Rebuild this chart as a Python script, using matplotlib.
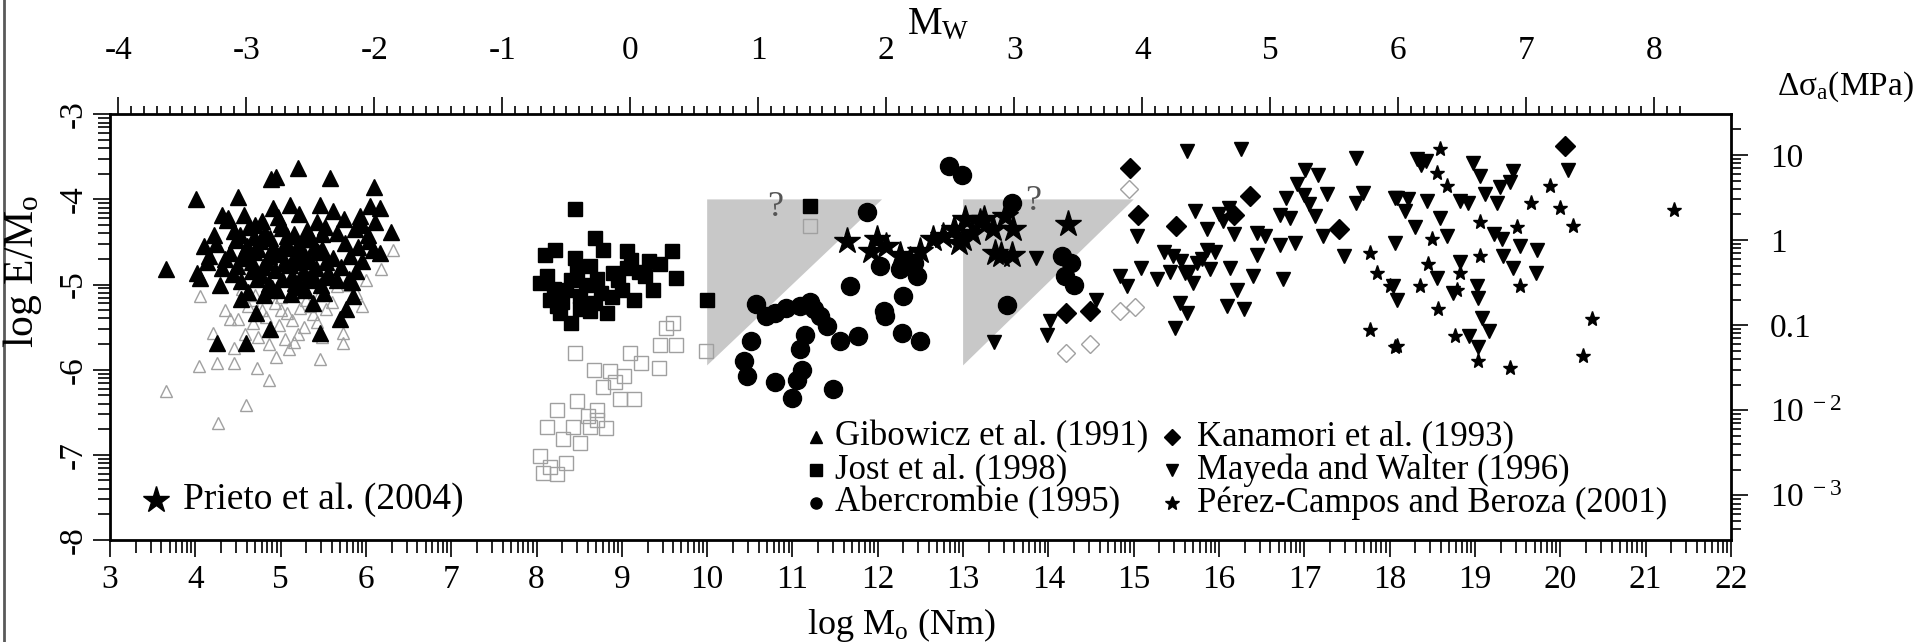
import numpy as np
import matplotlib
matplotlib.use("Agg")
import matplotlib.pyplot as plt
from matplotlib.lines import Line2D

plt.rcParams['font.family'] = ['Liberation Serif', 'DejaVu Serif']
plt.rcParams['mathtext.fontset'] = 'custom'
plt.rcParams['mathtext.rm'] = 'Liberation Serif'
plt.rcParams['mathtext.it'] = 'Liberation Serif:italic'
plt.rcParams['axes.unicode_minus'] = False

# ---- data: (log M0 [Nm], log E/M0) ----
# Gibowicz et al. (1991), filled triangles
gib_x = [3.66, 4.01, 4.50, 4.89, 4.95, 5.21, 5.58, 6.09, 6.05, 6.16, 6.30, 6.16, 5.46, 5.61, 5.11, 4.91,
         4.31, 4.37, 4.02, 4.14, 4.29, 4.25, 4.60, 4.54, 4.71, 4.88, 5.38, 5.46, 5.77, 5.70, 5.85,
         4.38, 4.57, 4.78, 4.97, 5.22, 5.43, 5.74, 5.93, 6.11,
         4.46, 4.63, 4.82, 5.02, 5.16, 5.31, 5.52, 5.66, 5.87, 6.02,
         4.24, 4.48, 4.61, 4.76, 4.91, 5.06, 5.21, 5.36, 5.49, 5.76, 5.91, 6.04,
         4.16, 4.41, 4.56, 4.69, 4.86, 5.01, 5.14, 5.29, 5.44, 5.61, 5.81, 5.96,
         4.31, 4.49, 4.66, 4.79, 4.94, 5.11, 5.26, 5.41, 5.56, 5.71, 5.89,
         4.54, 4.72, 4.86, 5.02, 5.17, 5.31, 5.47, 5.66, 5.84,
         4.62, 4.81, 4.96, 5.12, 5.29, 5.51, 4.10, 4.22, 4.05,
         4.52, 4.69, 4.88, 5.07, 5.27, 5.48, 4.58, 4.74, 4.93, 5.09, 5.24, 5.39, 4.67, 4.84, 5.04, 5.19,
         5.34, 5.53, 4.44, 4.77, 5.13, 5.36, 5.58, 5.95, 6.08, 4.35, 4.90, 5.23, 5.80, 4.70, 5.00, 5.40]
gib_y = [-4.82, -3.99, -3.97, -3.76, -3.74, -3.63, -3.75, -3.86, -4.08, -4.10, -4.38, -4.63, -4.06, -4.14, -4.06, -4.10,
         -4.18, -4.24, -4.86, -4.73, -5.00, -5.69, -5.69, -5.17, -5.33, -5.52, -5.22, -5.57, -5.29, -5.41, -5.14,
         -4.22, -4.18, -4.25, -4.21, -4.17, -4.26, -4.23, -4.19, -4.27,
         -4.37, -4.33, -4.39, -4.34, -4.41, -4.36, -4.32, -4.40, -4.35, -4.42,
         -4.52, -4.48, -4.55, -4.49, -4.56, -4.50, -4.54, -4.47, -4.58, -4.51, -4.56, -4.49,
         -4.66, -4.63, -4.69, -4.62, -4.67, -4.64, -4.71, -4.66, -4.62, -4.69, -4.66, -4.72,
         -4.81, -4.78, -4.84, -4.79, -4.83, -4.77, -4.85, -4.80, -4.86, -4.79, -4.84,
         -4.96, -4.93, -4.99, -4.94, -4.98, -4.92, -5.00, -4.95, -4.97,
         -5.09, -5.12, -5.07, -5.11, -5.06, -5.10, -4.55, -4.42, -4.92,
         -4.42, -4.44, -4.45, -4.43, -4.46, -4.41, -4.59, -4.58, -4.61, -4.57, -4.60, -4.56, -4.74, -4.73, -4.75, -4.74,
         -4.72, -4.74, -4.88, -4.89, -4.90, -4.89, -4.91, -4.30, -4.60, -4.70, -5.04, -5.03, -4.93, -4.30, -4.29, -4.95]

# Gibowicz et al. (1991), open triangles
gibo_x = [3.66, 4.27, 4.60, 4.04, 4.05, 4.25, 4.45, 4.72, 4.86, 5.46, 5.73, 5.73, 6.18, 6.32, 5.89, 5.66, 4.21, 4.41,
          4.55, 4.70, 4.85, 5.00, 5.15, 5.30, 5.45, 5.60, 4.62, 4.78, 4.93, 5.08, 5.23, 5.38, 5.53,
          4.50, 4.68, 4.83, 4.98, 5.13, 5.28, 5.43, 4.58, 4.74, 4.90, 5.05, 5.20, 4.35, 4.45, 4.95, 5.10,
          5.80, 6.00, 5.95, 4.86, 5.16, 5.48, 4.66, 5.01, 5.34]
gibo_y = [-6.25, -6.63, -6.41, -5.96, -5.14, -5.92, -5.92, -5.98, -6.12, -5.88, -5.69, -5.57, -4.82, -4.59, -5.10, -5.02, -5.57, -5.41,
          -5.05, -5.12, -5.08, -5.15, -5.10, -5.18, -5.12, -5.20, -5.25, -5.30, -5.22, -5.33, -5.27, -5.35, -5.29,
          -5.40, -5.45, -5.38, -5.48, -5.42, -5.50, -5.44, -5.58, -5.62, -5.55, -5.64, -5.58, -5.30, -5.75, -5.85, -5.76,
          -5.00, -4.95, -5.25, -5.70, -5.68, -5.62, -5.18, -5.30, -5.25]

# Jost et al. (1998), filled squares
jost_x = [8.45, 8.10, 8.22, 8.45, 8.69, 8.78, 9.06, 9.11, 9.45, 9.59, 9.64, 9.37, 9.14, 8.04, 8.16, 8.28, 8.41,
          8.63, 8.83, 8.51, 8.35, 8.71, 8.90, 9.00, 9.27, 8.63, 8.24, 8.76, 10.00, 11.20, 8.12, 9.06, 8.51,
          8.20, 8.40, 8.58, 8.95, 9.20, 8.30, 8.68, 8.88, 9.32, 8.48]
jost_y = [-4.11, -4.65, -4.59, -4.69, -4.45, -4.59, -4.61, -4.71, -4.76, -4.61, -4.92, -5.06, -5.18, -4.98, -5.18, -5.33, -5.45,
          -5.31, -5.33, -5.14, -5.06, -4.94, -4.86, -5.06, -4.90, -4.78, -5.25, -5.10, -5.18, -4.08, -4.90, -4.80, -5.29,
          -5.05, -4.95, -5.00, -4.95, -4.85, -5.20, -5.22, -5.15, -4.72, -4.85]

# Jost et al. (1998), open squares
josto_x = [11.20, 9.99, 9.64, 9.45, 9.60, 9.52, 9.43, 8.45, 9.10, 9.22, 8.67, 8.86, 9.02, 9.14, 8.98, 8.47, 8.71,
           8.24, 8.12, 8.43, 8.63, 8.82, 8.71, 8.31, 8.51, 8.04, 8.16, 8.35, 8.08, 8.24, 8.78, 8.92, 8.60]
josto_y = [-4.31, -5.78, -5.71, -5.71, -5.45, -5.51, -5.98, -5.80, -5.80, -5.92, -6.00, -6.02, -6.08, -6.35, -6.35, -6.37, -6.47,
           -6.47, -6.67, -6.67, -6.67, -6.69, -6.59, -6.82, -6.86, -7.02, -7.14, -7.10, -7.21, -7.23, -6.20, -6.15, -6.55]

# Abercrombie (1995), filled circles
aber_x = [11.87, 11.68, 10.57, 10.69, 10.79, 10.93, 11.09, 11.21, 11.25, 11.32, 11.40, 11.56, 11.77, 11.15, 11.09,
          11.11, 11.05, 10.79, 10.99, 11.48, 10.51, 10.43, 10.47, 12.30, 12.09, 12.07, 12.28, 12.49, 12.03, 12.26,
          12.46, 12.42, 12.83, 12.99, 13.57, 13.51, 14.16, 14.26, 14.30, 14.20]
aber_y = [-4.15, -5.02, -5.23, -5.37, -5.33, -5.27, -5.25, -5.21, -5.29, -5.37, -5.49, -5.66, -5.61, -5.59, -5.76,
          -6.00, -6.12, -6.14, -6.33, -6.23, -5.66, -5.90, -6.08, -5.14, -5.37, -5.31, -5.57, -5.66, -4.78, -4.82,
          -4.90, -4.75, -3.61, -3.71, -4.04, -5.24, -4.67, -4.75, -5.00, -4.90]

# Kanamori et al. (1993), filled diamonds
kana_x = [14.96, 15.05, 15.50, 17.41, 14.49, 14.21, 16.18, 16.36, 20.06]
kana_y = [-3.63, -4.18, -4.31, -4.35, -5.31, -5.33, -4.18, -3.96, -3.37]

# open diamonds
kanao_x = [14.94, 14.84, 15.01, 14.21, 14.49]
kanao_y = [-3.88, -5.31, -5.26, -5.80, -5.70]

# Mayeda and Walter (1996), inverted triangles
maye_x = [15.62, 16.26, 17.61, 17.01, 17.16, 16.91, 17.26, 17.69, 16.79, 17.61, 18.06, 15.72, 15.86, 16.17, 16.44,
          16.54, 16.71, 16.89, 16.44, 17.22, 17.47, 15.04, 15.86, 16.13, 16.40, 16.75, 16.21, 16.09, 16.29, 15.62,
          15.48, 15.54, 15.27, 15.09, 14.84, 14.92, 15.46, 15.60, 15.74, 15.89, 15.70, 14.56, 14.02, 13.98, 13.36,
          13.86, 15.35, 15.55, 15.65, 15.80, 15.42, 15.95, 17.05, 17.12, 17.00, 16.71, 16.83, 16.00, 16.12, 16.05,
          18.98, 19.06, 19.45, 19.41, 19.29, 20.09, 18.08, 18.22, 18.18, 18.82, 18.92, 19.12, 19.26, 18.30, 18.44,
          18.59, 18.67, 19.22, 19.32, 19.53, 19.73, 18.82, 19.33, 19.45, 19.71, 18.04, 18.08, 18.06, 18.55, 19.02,
          18.74, 19.04, 19.08, 19.16, 19.04, 18.93, 18.32, 18.42, 18.37]
maye_y = [-3.43, -3.41, -3.51, -3.65, -3.71, -3.82, -3.94, -3.92, -3.98, -4.04, -3.98, -4.14, -4.35, -4.41, -4.39,
          -4.43, -4.53, -4.51, -4.65, -4.43, -4.67, -4.43, -4.59, -4.80, -4.90, -4.94, -5.06, -5.25, -5.29, -5.33,
          -5.51, -5.22, -4.94, -4.80, -4.90, -5.02, -4.67, -4.86, -4.75, -4.82, -4.98, -5.18, -5.43, -5.59, -5.67,
          -4.69, -4.62, -4.72, -4.85, -4.70, -4.85, -4.62, -4.05, -4.20, -3.95, -4.18, -4.22, -4.17, -4.10, -4.25,
          -3.57, -3.73, -3.67, -3.80, -3.86, -3.65, -3.98, -4.00, -4.14, -4.02, -4.04, -3.94, -4.04, -4.33, -4.02,
          -4.22, -4.43, -4.41, -4.47, -4.55, -4.59, -4.73, -4.67, -4.80, -4.86, -5.02, -5.18, -4.51, -4.92, -5.02,
          -5.10, -5.16, -5.39, -5.55, -5.73, -5.61, -3.52, -3.55, -3.60]

# Perez-Campos and Beroza (2001), small stars
perez_x = [18.59, 18.55, 18.67, 19.88, 19.66, 20.00, 20.15, 19.49, 19.06, 18.49, 18.45, 18.36, 18.79, 19.53,
           18.57, 18.77, 19.04, 19.41, 18.08, 20.37, 20.27, 21.33, 19.06, 18.82, 17.77, 18.06, 17.77, 17.85, 18.00]
perez_y = [-3.41, -3.69, -3.84, -3.84, -4.04, -4.10, -4.31, -4.33, -4.27, -4.47, -4.76, -5.02, -5.06, -5.02,
           -5.29, -5.61, -5.90, -5.98, -5.72, -5.41, -5.84, -4.12, -4.67, -4.86, -5.53, -5.73, -4.63, -4.86, -5.02]

# Prieto et al. (2004), large stars
prieto_x = [11.64, 11.99, 11.92, 12.26, 12.38, 12.50, 12.65, 12.89, 13.00, 13.20, 13.35, 13.37, 13.02, 13.24,
            12.95, 12.77, 13.49, 13.59, 13.45, 13.57, 14.23, 12.10, 13.10]
prieto_y = [-4.49, -4.47, -4.61, -4.65, -4.71, -4.61, -4.47, -4.35, -4.47, -4.27, -4.35, -4.63, -4.23, -4.23,
            -4.51, -4.43, -4.19, -4.35, -4.65, -4.65, -4.29, -4.55, -4.40]

# grey triangles and question marks
tri1_x = [10.0, 10.0, 12.05]
tri1_y = [-4.0, -5.95, -4.0]
tri2_x = [13.0, 13.0, 15.0]
tri2_y = [-4.0, -5.95, -4.0]
qmark_x = [10.8, 13.82]
qmark_y = [-4.1, -4.02]

mw_ticks = list(range(-4, 9))
stress_ticks = [1, 0, -1, -2, -3]
stress_labels = ['10', '1', '0.1', '10$^{\\mathrm{\\ -2}}$', '10$^{\\mathrm{\\ -3}}$']

legend_labels = ['Gibowicz et al. (1991)', 'Jost et al. (1998)', 'Abercrombie (1995)',
                 'Kanamori et al. (1993)', 'Mayeda and Walter (1996)', 'Pérez-Campos and Beroza (2001)']
legend_markers = ['^', 's', 'o', 'D', 'v', '*']

# ---- figure ----
fig = plt.figure(figsize=(19.15, 6.42), dpi=100)
ax = fig.add_axes([0.0574, 0.159, 0.8465, 0.663])

ax.fill(tri1_x, tri1_y, color='#c8c8c8', lw=0, zorder=1)
ax.fill(tri2_x, tri2_y, color='#c8c8c8', lw=0, zorder=1)
for qx, qy in zip(qmark_x, qmark_y):
    ax.text(qx, qy, '?', fontsize=26, color='#555555', ha='center', va='center', zorder=2)

grey = '#a0a0a0'
ax.plot(gibo_x, gibo_y, '^', ms=9, mfc='none', mec=grey, mew=1, ls='none', zorder=2)
ax.plot(josto_x, josto_y, 's', ms=10, mfc='none', mec=grey, mew=1, ls='none', zorder=2)
ax.plot(kanao_x, kanao_y, 'D', ms=9, mfc='none', mec=grey, mew=1, ls='none', zorder=2)

ax.plot(gib_x, gib_y, '^', ms=11, color='k', ls='none', zorder=3)
ax.plot(jost_x, jost_y, 's', ms=10, color='k', ls='none', zorder=3)
ax.plot(aber_x, aber_y, 'o', ms=13, color='k', ls='none', zorder=3)
ax.plot(kana_x, kana_y, 'D', ms=10, color='k', ls='none', zorder=3)
ax.plot(maye_x, maye_y, 'v', ms=10, color='k', ls='none', zorder=3)
ax.plot(perez_x, perez_y, '*', ms=11, color='k', ls='none', zorder=3)
ax.plot(prieto_x, prieto_y, '*', ms=20, color='k', ls='none', zorder=4)

ax.set_xlim(3, 22)
ax.set_ylim(-8, -3)

frac = np.log10(np.arange(2, 10))
ax.set_xticks(range(3, 23))
ax.set_xticks([k + f for k in range(3, 22) for f in frac], minor=True)
ax.set_yticks(range(-8, -2))
ax.set_yticks([k + f for k in range(-8, -3) for f in frac], minor=True)
ax.tick_params(which='both', direction='out', width=1.2, labelsize=24)
ax.tick_params(which='major', length=12)
ax.tick_params(which='minor', length=9)
ax.tick_params(axis='x', pad=6)
ax.tick_params(axis='y', labelrotation=90, pad=3)
for lab in ax.get_yticklabels():
    lab.set_va('center')
for s in ax.spines.values():
    s.set_linewidth(2)

# top axis: moment magnitude
top = ax.secondary_xaxis('top', functions=(lambda x: (x - 9.1) / 1.5, lambda m: 1.5 * m + 9.1))
top.set_xticks(mw_ticks)
top.set_xticks(np.arange(-4.0, 8.25, 0.1), minor=True)
top.tick_params(which='both', direction='out', width=1.2, labelsize=24, pad=23)
top.tick_params(which='major', length=12)
top.tick_params(which='minor', length=6)

# right axis: apparent stress
shift = np.log10(3e4)
right = ax.secondary_yaxis('right', functions=(lambda y: y + shift, lambda s: s - shift))
right.set_yticks(stress_ticks)
right.set_yticklabels(stress_labels)
right.set_yticks([k + f for k in range(-4, 2) for f in frac if -3.52 < k + f < 1.47], minor=True)
right.tick_params(which='both', direction='out', width=1.2, labelsize=24, pad=16)
right.tick_params(which='major', length=12)
right.tick_params(which='minor', length=7)

fig.text(0.4705, 0.027, 'log M$_\\mathrm{o}$ (Nm)', fontsize=26, ha='center', va='center')
fig.text(0.0115, 0.578, 'log E/M$_\\mathrm{o}$', fontsize=30, rotation=90, ha='center', va='center')
fig.text(0.490, 0.962, 'M$_\\mathrm{W}$', fontsize=28, ha='center', va='center')
fig.text(0.928, 0.865, 'Δσ$_\\mathrm{a}$(MPa)', fontsize=24, ha='left', va='center')

# legend drawn by hand
col_mx = [0.4355, 0.655]
col_tx = [0.4472, 0.6706]
row_y = [0.2424, 0.1647, 0.0871]
for i, (lab, mk) in enumerate(zip(legend_labels, legend_markers)):
    c, r = divmod(i, 3)
    ax.plot(col_mx[c], row_y[r], mk, ms=8 if mk != '*' else 10, color='k', transform=ax.transAxes, clip_on=False)
    ax.text(col_tx[c], row_y[r], lab, fontsize=25, ha='left', va='center', transform=ax.transAxes)
ax.plot(0.0284, 0.094, '*', ms=20, color='k', transform=ax.transAxes)
ax.text(0.045, 0.094, 'Prieto et al. (2004)', fontsize=27, ha='left', va='center', transform=ax.transAxes)

fig.add_artist(Line2D([0.002, 0.002], [0, 1], color='0.35', lw=2))

fig.savefig('out.png', dpi=100)
